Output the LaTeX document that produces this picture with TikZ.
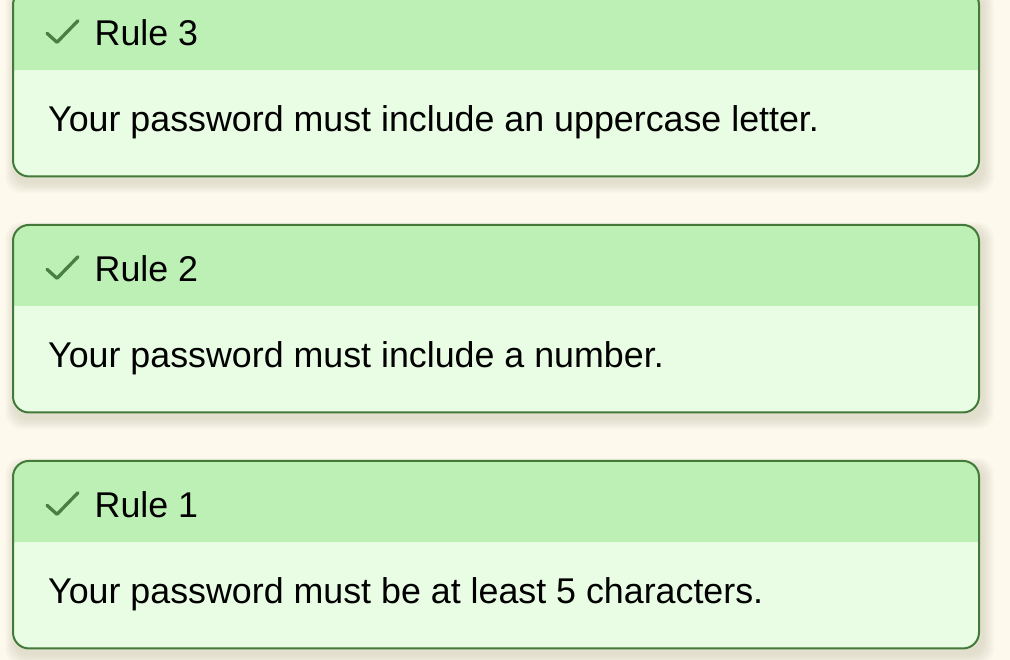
\documentclass[tikz,border=0pt]{standalone}
\usepackage{fontspec}
\setmainfont{Liberation Sans}
\definecolor{bgc}{HTML}{FDF9EC}
\definecolor{headc}{HTML}{BDF0B4}
\definecolor{bodyc}{HTML}{E8FDE4}
\definecolor{bordc}{HTML}{437A3A}
\definecolor{checkc}{HTML}{4A7F44}
\definecolor{shadc}{HTML}{6E6A40}
\begin{document}
\begin{tikzpicture}[x=1pt,y=-1pt,
  card/.style={draw=bordc, line width=2pt, fill=bodyc, rounded corners=16pt,
    minimum width=966pt, minimum height=187.5pt, inner sep=0pt, outer sep=0pt,
    path picture={\fill[headc, sharp corners] ([yshift=-81pt]path picture bounding box.north west)
      rectangle (path picture bounding box.north east);}},
  title/.style={anchor=base west, inner sep=0pt, font=\fontsize{35.8}{42}\selectfont},
  bodytext/.style={anchor=base west, inner sep=0pt, font=\fontsize{35.8}{42}\selectfont},
  check/.style={draw=checkc, line width=3.3pt, line cap=round, line join=round}]
\fill[bgc] (0,0) rectangle (1010,660);
\useasboundingbox (0,0) rectangle (1010,660);
\newcommand{\mycard}[4]{%
  \foreach \i in {1,...,10}{
    \fill[shadc, opacity=0.015, rounded corners=16pt]
      (12+3-\i*1.0, #2+6-\i*0.8) rectangle (980+3+\i*1.1, #2+189.3+5+\i*1.1);
  }
  \node[card] (#1) at (496, #2+94.7) {};
  \draw[check] (47, #2+45.3) -- (57, #2+54.3) -- (78, #2+32.7);
  \node[title] (#1t) at (94.5, #2+57.5) {#3};
  \node[bodytext] (#1b) at (48, #2+143.5) {#4};
}
\mycard{c3}{-12}{Rule 3}{Your password must include an uppercase letter.}
\mycard{c2}{224}{Rule 2}{Your password must include a number.}
\mycard{c1}{460}{Rule 1}{Your password must be at least 5 characters.}
\end{tikzpicture}
\end{document}
